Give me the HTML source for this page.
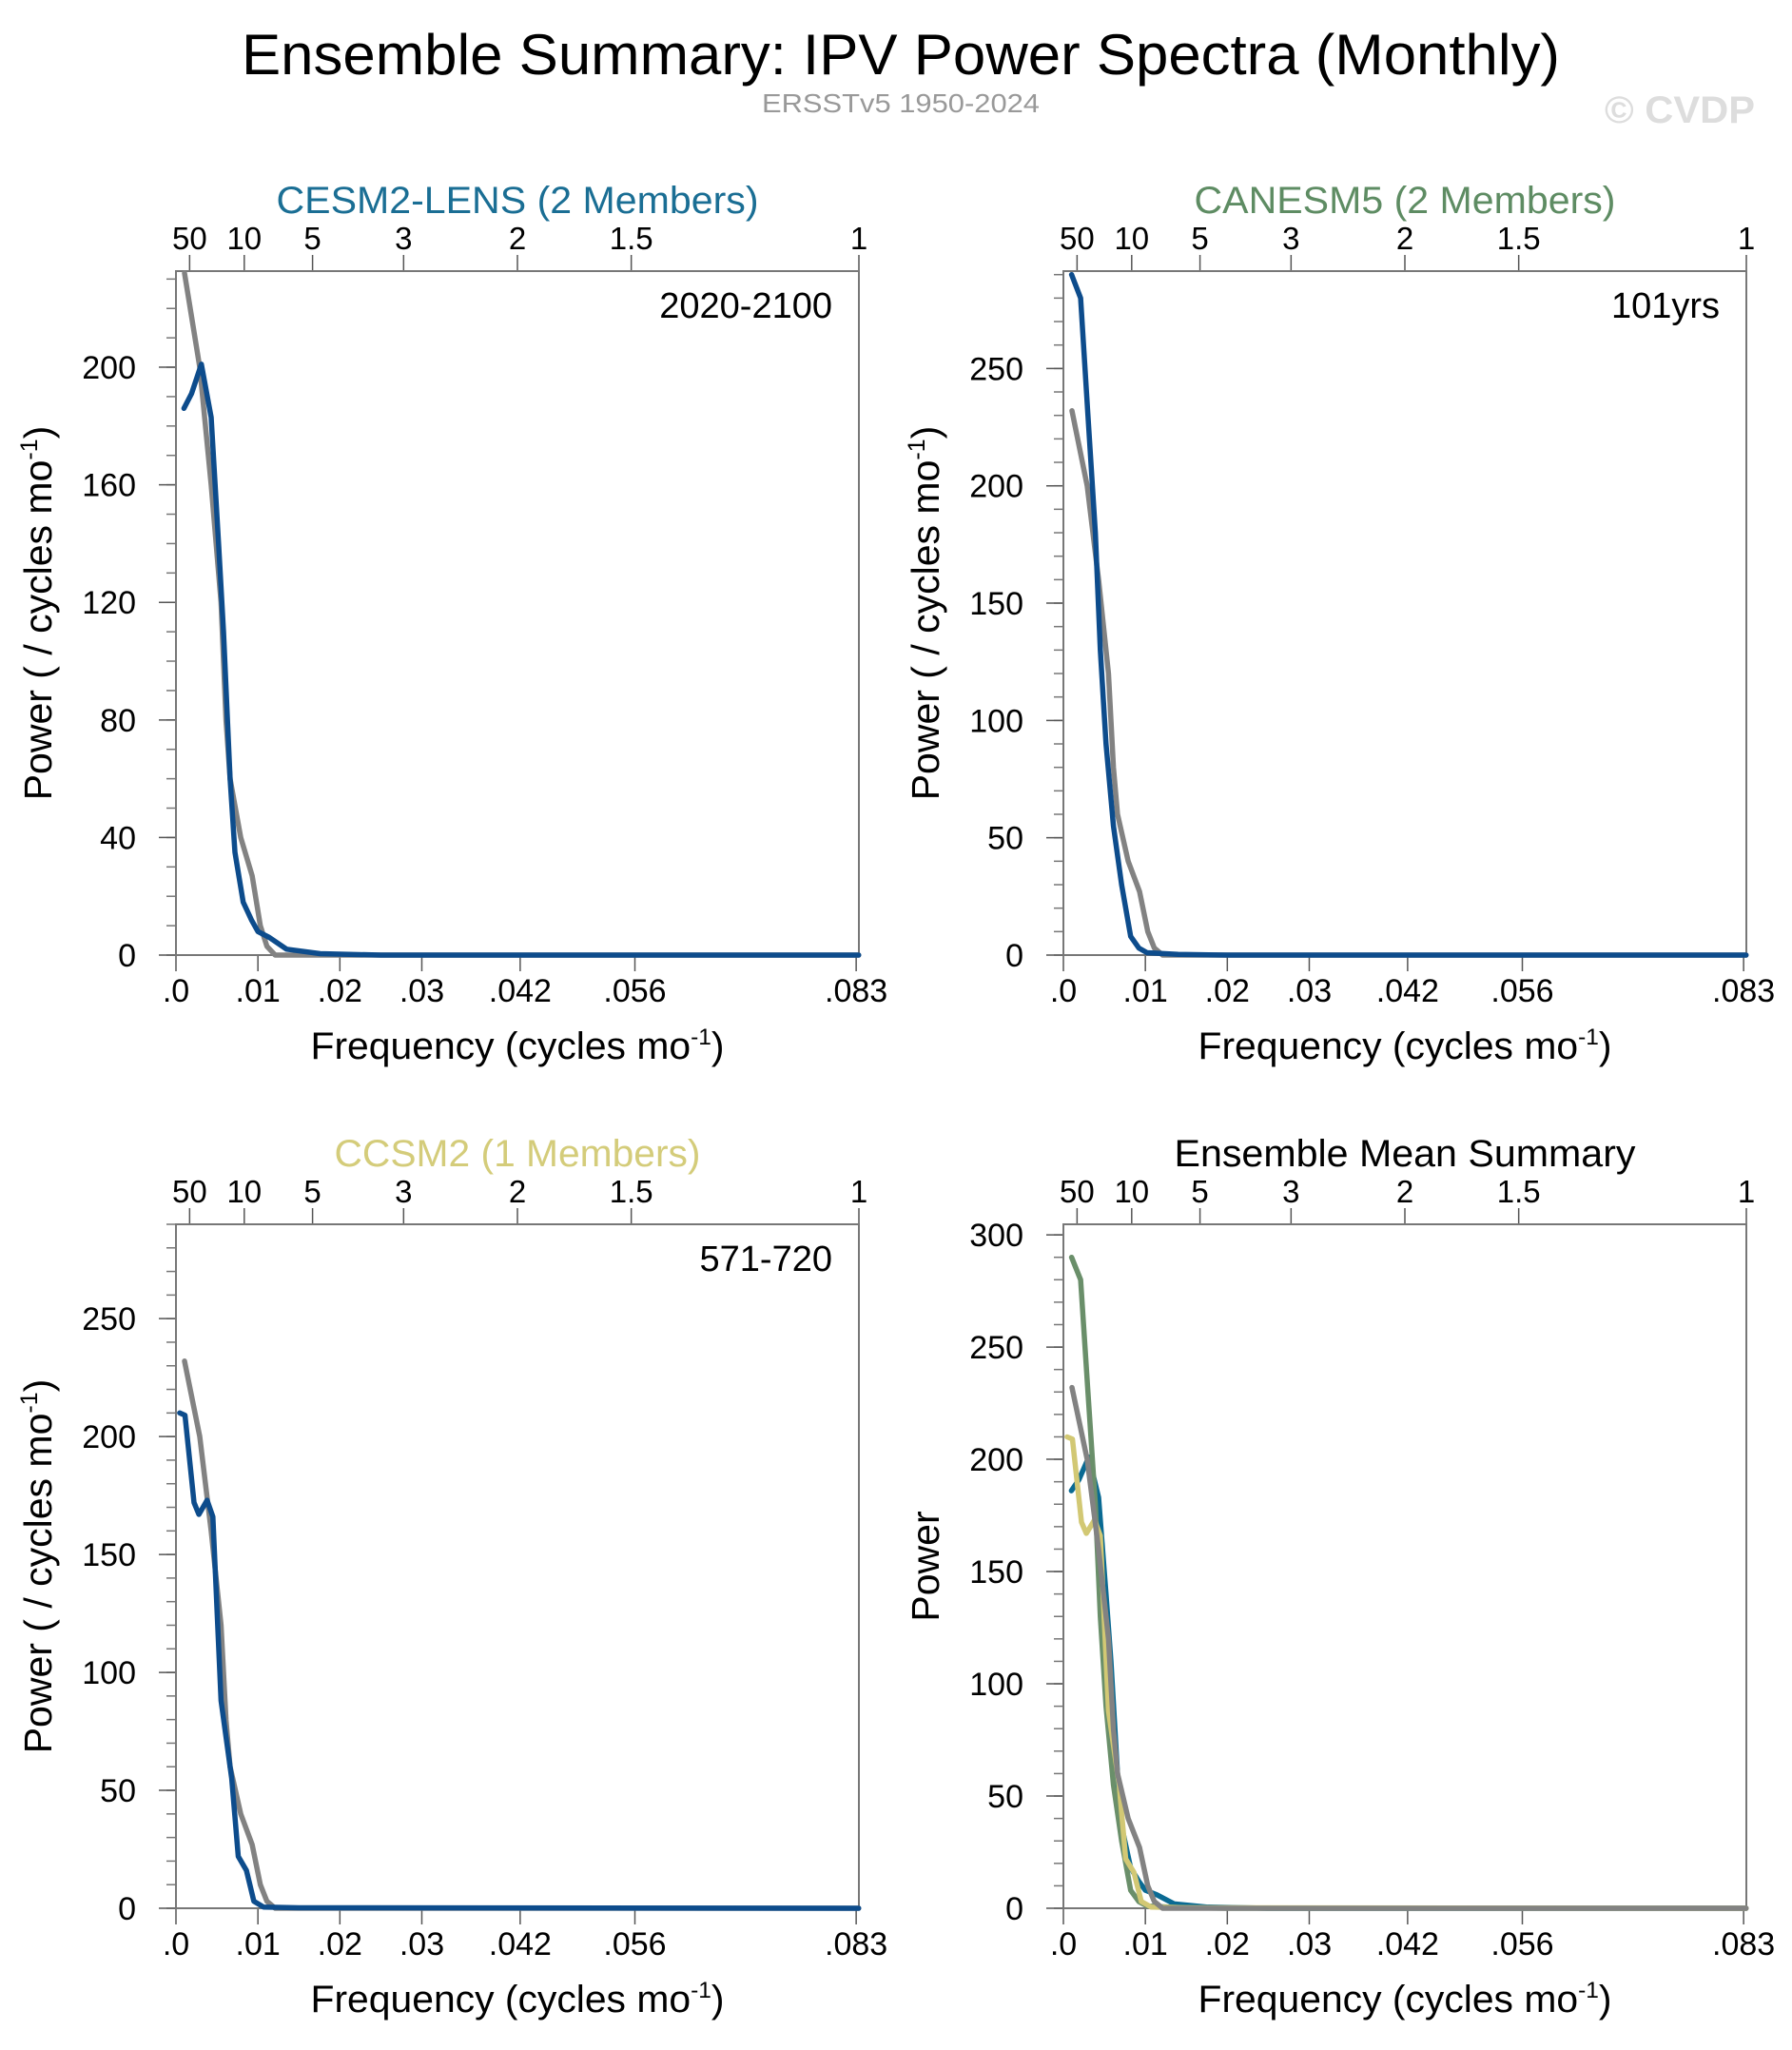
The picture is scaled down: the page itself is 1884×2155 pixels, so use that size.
<!DOCTYPE html>
<html><head><meta charset="utf-8">
<style>
html,body{margin:0;padding:0;background:#fff;}
svg{display:block;font-family:"Liberation Sans",sans-serif;}
</style></head>
<body>
<svg id="fig" width="1884" height="2155" viewBox="0 0 1884 2155" xmlns="http://www.w3.org/2000/svg">
<text x="947" y="78" font-size="60" text-anchor="middle" textLength="1386" lengthAdjust="spacingAndGlyphs">Ensemble Summary: IPV Power Spectra (Monthly)</text>
<text x="947" y="118" font-size="28" fill="#999" text-anchor="middle" textLength="292" lengthAdjust="spacingAndGlyphs">ERSSTv5 1950-2024</text>
<text x="1845" y="129" font-size="40" font-weight="bold" fill="#ddd" text-anchor="end" textLength="158" lengthAdjust="spacingAndGlyphs">© CVDP</text>
<g id="panels"></g>
</svg>
<script>
// Shared axis data
const xTickVals = [0, 0.01, 0.02, 0.03, 0.042, 0.056, 0.083];
const xTickLabels = [".0", ".01", ".02", ".03", ".042", ".056", ".083"];
const periodTicks = [50, 10, 5, 3, 2, 1.5, 1];
const periodLabels = ["50", "10", "5", "3", "2", "1.5", "1"];

// Observations (ERSSTv5) spectrum
const obsFreq = [0.00104, 0.0029, 0.0043, 0.0055, 0.0061, 0.0066, 0.0079, 0.0093, 0.0103, 0.0111, 0.0121, 0.0833];
const obsPow = [232, 200, 160, 120, 80, 60, 40, 27, 10, 3, 0, 0];

// CESM2-LENS
const cesmFreq = [0.00097, 0.0019, 0.0031, 0.0043, 0.0052, 0.0058, 0.0066, 0.0072, 0.0082, 0.0092, 0.0100, 0.0114, 0.0135, 0.0176, 0.025, 0.0833];
const cesmPow = [186, 191, 201, 183, 140, 110, 60, 35, 18, 12, 8, 6, 2, 0.5, 0, 0];

// CANESM5
const canFreq = [0.0010, 0.0021, 0.003, 0.0039, 0.0045, 0.0052, 0.0061, 0.0071, 0.0082, 0.0092, 0.0102, 0.014, 0.02, 0.0833];
const canPow = [290, 280, 230, 180, 130, 90, 55, 30, 8, 3, 1, 0.3, 0, 0];

// CCSM2
const ccsmFreq = [0.00045, 0.0011, 0.0022, 0.0028, 0.0038, 0.0045, 0.0055, 0.0068, 0.0076, 0.0086, 0.0095, 0.0107, 0.015, 0.0833];
const ccsmPow = [210, 209, 172, 167, 173, 166, 88, 55, 22, 16, 3, 0.5, 0.2, 0];

const y1Ticks = [0, 40, 80, 120, 160, 200];
const y2Ticks = [0, 50, 100, 150, 200, 250];
const y4Ticks = [0, 50, 100, 150, 200, 250, 300];

const NS = "http://www.w3.org/2000/svg";
const root = document.getElementById("panels");
const FMAX = 1/12;

function mk(tag, attrs, parent) {
  const e = document.createElementNS(NS, tag);
  for (const k in attrs) e.setAttribute(k, attrs[k]);
  (parent || root).appendChild(e);
  return e;
}

function panel(o) {
  const g = mk("g", {});
  
  
  const L = o.x0, R = o.x0 + 718, T = o.y0, B = o.y0 + 719;
  const sx = f => L + f / FMAX * (R - L);
  const sy = v => B - v / o.ymax * (B - T);
  for (let v = 0; v <= o.ymax; v += 10) {
    const t = mk("line", {x1: L - 10, x2: L, y1: sy(v), y2: sy(v), stroke: "#777", "stroke-width": 1.5}, g);
    
    
  }
  o.yTicks.forEach(v => {
    const t = mk("line", {x1: L - 18, x2: L, y1: sy(v), y2: sy(v), stroke: "#555", "stroke-width": 1.5}, g);
    
    
    const tx = mk("text", {x: L - 42, y: sy(v) + 12, "font-size": 34, "text-anchor": "end"}, g);
    tx.textContent = String(v);
    
    
  });
  xTickVals.forEach((f, i) => {
    const x = sx(Math.min(f, FMAX));
    const t = mk("line", {x1: x, x2: x, y1: B, y2: B + 17, stroke: "#555", "stroke-width": 1.5}, g);
    
    
    const tx = mk("text", {x: x, y: B + 49, "font-size": 34, "text-anchor": "middle"}, g);
    tx.textContent = xTickLabels[i];
    
    
  });
  periodTicks.forEach((p, i) => {
    const x = sx(1 / (12 * p));
    const t = mk("line", {x1: x, x2: x, y1: T, y2: T - 17, stroke: "#555", "stroke-width": 1.5}, g);
    
    
    const tx = mk("text", {x: x, y: T - 23, "font-size": 33, "text-anchor": "middle"}, g);
    tx.textContent = periodLabels[i];
    
    
  });
  const frame = mk("rect", {x: L, y: T, width: R - L, height: B - T, fill: "none", stroke: "#777", "stroke-width": 2}, g);
  
  
  const clip = mk("g", {}, g);
  o.series.forEach(s => {
    const d = s.f.map((f, i) => (i ? "L" : "M") + sx(f).toFixed(1) + " " + sy(s.p[i]).toFixed(1)).join(" ");
    const p = mk("path", {d: d, fill: "none", stroke: s.c, "stroke-width": 5.5, "stroke-linejoin": "round", "stroke-linecap": "round"}, clip);
    
    
  });
  const ti = mk("text", {x: (L + R) / 2, y: T - 61, "font-size": 40, "text-anchor": "middle", fill: o.tcol, textLength: o.tlen, lengthAdjust: "spacingAndGlyphs"}, g);
  ti.textContent = o.title;
  
  
  if (o.note) {
    const n = mk("text", {x: R - 28, y: T + 49, "font-size": 38, "text-anchor": "end"}, g);
    n.textContent = o.note;
    
    
  }
  const xt = mk("text", {x: (L + R) / 2, y: B + 109, "font-size": 40, "text-anchor": "middle", textLength: 435, lengthAdjust: "spacingAndGlyphs"}, g);
  xt.innerHTML = 'Frequency (cycles mo<tspan dy="-15" font-size="24">-1</tspan><tspan dy="15">)</tspan>';
  
  
  const cy = (T + B) / 2;
  const yt = mk("text", {x: 0, y: 0, "font-size": 41, "text-anchor": "middle", transform: `translate(${L - 131},${cy}) rotate(-90)`}, g);
  if (o.ytitleSimple) yt.textContent = "Power";
  else yt.innerHTML = 'Power ( / cycles mo<tspan dy="-15" font-size="25">-1</tspan><tspan dy="15">)</tspan>';
  
  
}

const BLUE = "#0d4c8c", GRAY = "#828282";
panel({name: "panel-cesm2-lens", x0: 185, y0: 285, ymax: 232.7, yTicks: y1Ticks, title: "CESM2-LENS (2 Members)", tcol: "#1a6e94", tlen: 507, note: "2020-2100",
  series: [{f: obsFreq, p: obsPow, c: GRAY, n: "obs-line"}, {f: cesmFreq, p: cesmPow, c: BLUE, n: "cesm2-line"}]});
panel({name: "panel-canesm5", x0: 1118, y0: 285, ymax: 291.5, yTicks: y2Ticks, title: "CANESM5 (2 Members)", tcol: "#5e8c63", tlen: 443, note: "101yrs",
  series: [{f: obsFreq, p: obsPow, c: GRAY, n: "obs-line"}, {f: canFreq, p: canPow, c: BLUE, n: "canesm5-line"}]});
panel({name: "panel-ccsm2", x0: 185, y0: 1287, ymax: 290, yTicks: y2Ticks, title: "CCSM2 (1 Members)", tcol: "#d4cc7a", tlen: 385, note: "571-720",
  series: [{f: obsFreq, p: obsPow, c: GRAY, n: "obs-line"}, {f: ccsmFreq, p: ccsmPow, c: BLUE, n: "ccsm2-line"}]});
panel({name: "panel-ensemble-mean", x0: 1118, y0: 1287, ymax: 304.7, yTicks: y4Ticks, title: "Ensemble Mean Summary", tcol: "#000", tlen: 485, ytitleSimple: true,
  series: [{f: cesmFreq, p: cesmPow, c: "#0a6a93", n: "cesm2-mean-line"}, {f: canFreq, p: canPow, c: "#6a8f6a", n: "canesm5-mean-line"},
           {f: ccsmFreq, p: ccsmPow, c: "#d2c874", n: "ccsm2-mean-line"}, {f: obsFreq, p: obsPow, c: GRAY, n: "obs-line"}]});
</script>
</body></html>
